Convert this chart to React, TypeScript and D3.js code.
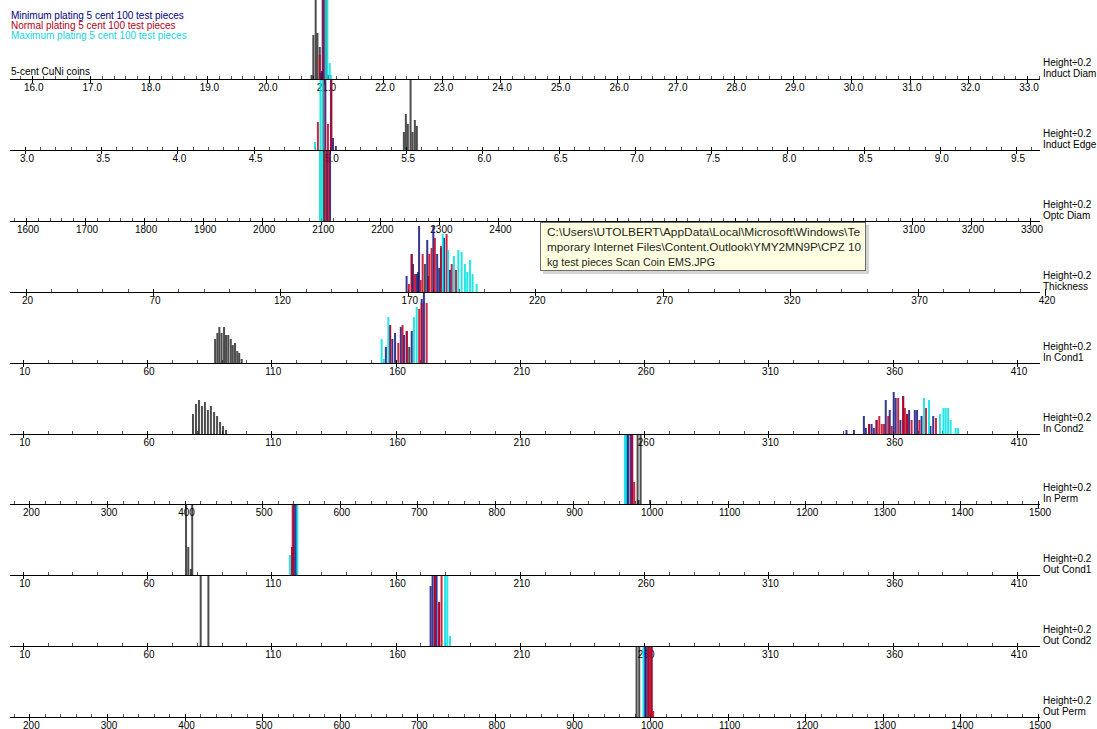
import React, { useEffect } from 'react';
import * as d3 from 'd3';

type Bar = [number, number];

// ---------- tick labels ----------
const inductDiamTicks = d3.range(16, 33.5, 1);
const inductEdgeTicks = d3.range(3, 9.75, 0.5);
const optcDiamTicks = d3.range(1600, 3350, 100);
const thicknessTicks = d3.range(20, 450, 50);
const condTicks = d3.range(10, 450, 50);
const permTicks = d3.range(200, 1550, 100);

// ---------- series: [value, count] ----------
// Induct Diam
const inductDiamBlack: Bar[] = [[20.78, 2], [20.81, 22], [20.85, 40], [20.88, 23], [20.92, 16], [20.94, 3]];
const inductDiamMin: Bar[] = [[20.96, 4], [20.97, 40], [21.0, 40], [21.06, 2]];
const inductDiamNorm: Bar[] = [[20.92, 12], [20.99, 40], [21.03, 40]];
const inductDiamMax: Bar[] = [[21.02, 40], [21.05, 40], [21.09, 8], [21.11, 2]];
// Induct Edge
const inductEdgeBlack: Bar[] = [[5.485, 9], [5.498, 18], [5.511, 13], [5.529, 40], [5.542, 9], [5.557, 15], [5.57, 12]];
const inductEdgeMin: Bar[] = [[4.97, 40], [5.007, 40], [5.02, 6], [5.039, 2]];
const inductEdgeNorm: Bar[] = [[4.921, 14], [4.958, 40], [4.987, 13], [5.01, 40]];
const inductEdgeMax: Bar[] = [[4.902, 4], [4.938, 40], [4.952, 40]];
// Optc Diam
const optcDiamBlack: Bar[] = [[2104.6, 40]];
const optcDiamMin: Bar[] = [[2109.7, 40], [2114.8, 40]];
const optcDiamNorm: Bar[] = [[2107.3, 40], [2112.2, 40]];
const optcDiamMax: Bar[] = [[2097.8, 40], [2101.2, 40]];
// Thickness
const thicknessBlack: Bar[] = [[174.0, 10], [176.7, 14], [178.0, 8]];
const thicknessMin: Bar[] = [[169.5, 8], [171.5, 19], [172.0, 14], [173.5, 9], [174.4, 33], [177.6, 26], [180.0, 33], [181.5, 19], [182.3, 12], [183.0, 22], [184.2, 27], [186.5, 11]];
const thicknessNorm: Bar[] = [[170.4, 4], [171.5, 19], [172.8, 9], [175.0, 6], [175.8, 19], [178.4, 19], [179.3, 22], [180.6, 27], [183.0, 23], [185.2, 29], [187.2, 14], [188.9, 11]];
const thicknessMax: Bar[] = [[183.7, 29], [185.8, 21], [188.1, 18], [189.8, 21], [191.1, 20], [192.4, 14], [193.3, 10], [194.4, 16], [195.4, 9], [197.0, 4]];
// In Cond1
const inCond1Black: Bar[] = [[87.4, 12], [88.3, 15], [89.1, 18], [90.0, 15], [91.0, 18], [91.8, 14], [92.7, 14], [93.7, 12], [94.5, 9], [95.4, 10], [96.3, 6], [97.1, 5], [98.1, 2], [165.5, 8]];
const inCond1Min: Bar[] = [[156.1, 8], [157.8, 19], [158.7, 12], [159.8, 15], [162.1, 18], [163.4, 14], [164.5, 16], [166.5, 16], [170.5, 32], [171.4, 35]];
const inCond1Norm: Bar[] = [[157.8, 19], [161.1, 10], [162.8, 19], [164.5, 16], [169.5, 27], [170.5, 30], [172.5, 30]];
const inCond1Max: Bar[] = [[154.4, 12], [155.3, 2], [157.1, 23], [167.4, 23], [168.5, 28]];
// In Cond2
const inCond2Black: Bar[] = [[78.5, 10], [79.7, 15], [80.9, 17], [82.1, 14], [83.3, 16], [84.5, 12], [85.7, 14], [87.0, 11], [88.2, 9], [89.4, 6], [90.6, 4], [91.8, 2]];
const inCond2Min: Bar[] = [[341.4, 2], [344.4, 2], [348.4, 9], [349.2, 3], [350.5, 5], [351.5, 5], [352.4, 3], [353.5, 7], [357.2, 17], [358.8, 12], [360.4, 21], [361.2, 18], [363.1, 7], [364.2, 19], [365.8, 10], [366.6, 12], [368.9, 12], [369.8, 12], [371.6, 9], [375.2, 4], [376.3, 9]];
const inCond2Norm: Bar[] = [[350.5, 5], [353.5, 7], [354.6, 9], [355.6, 5], [356.5, 5], [358.2, 9], [359.6, 4], [362.2, 18], [364.2, 19], [364.9, 13], [365.8, 10], [367.6, 7], [370.7, 7], [373.4, 13], [377.4, 8]];
const inCond2Max: Bar[] = [[372.6, 18], [374.6, 17], [379.0, 10], [380.4, 13], [381.3, 13], [382.3, 13], [383.3, 7], [385.3, 3], [386.3, 3]];
// In Perm
const inPermBlack: Bar[] = [[983.9, 40], [985.0, 2], [987.8, 40], [1000.0, 2]];
const inPermMin: Bar[] = [[970.1, 40], [971.8, 40], [974.9, 40], [976.9, 40]];
const inPermNorm: Bar[] = [[976.9, 40], [979.5, 11]];
const inPermMax: Bar[] = [[967.5, 40], [969.0, 40]];
// Out Cond1
const outCond1Black: Bar[] = [[75.7, 40], [76.6, 14], [77.6, 3], [78.2, 40]];
const outCond1Min: Bar[] = [[118.4, 14], [119.1, 40], [119.9, 40]];
const outCond1Norm: Bar[] = [[118.4, 14], [118.6, 40]];
const outCond1Max: Bar[] = [[117.5, 10], [120.5, 40]];
// Out Cond2
const outCond2Black: Bar[] = [[81.6, 40], [84.7, 40]];
const outCond2Min: Bar[] = [[174.1, 30], [174.9, 40], [175.8, 40], [176.5, 40], [177.5, 22]];
const outCond2Norm: Bar[] = [[175.8, 40], [177.5, 22], [178.5, 40]];
const outCond2Max: Bar[] = [[179.9, 40], [180.8, 40], [181.9, 5]];
// Out Perm
const outPermBlack: Bar[] = [[982.6, 40], [986.0, 40]];
const outPermMin: Bar[] = [[993.3, 40], [994.6, 40], [997.6, 40], [1001.9, 40]];
const outPermNorm: Bar[] = [[997.6, 40], [999.7, 40], [1001.9, 40], [1004.0, 3]];
const outPermMax: Bar[] = [[991.4, 40]];

const legendLines = [
  { text: 'Minimum plating 5 cent 100 test pieces', color: '#000080' },
  { text: 'Normal plating 5 cent 100 test pieces', color: '#b0001c' },
  { text: 'Maximum plating 5 cent 100 test pieces', color: '#12d6e2' },
];
const tooltipLines = [
  'C:\\Users\\UTOLBERT\\AppData\\Local\\Microsoft\\Windows\\Te',
  'mporary Internet Files\\Content.Outlook\\YMY2MN9P\\CPZ 10',
  'kg test pieces Scan Coin EMS.JPG',
];

const f1 = (d: number) => d.toFixed(1);
const f0 = (d: number) => String(Math.round(d));

const panels = [
  { name: 'Induct Diam', ticks: inductDiamTicks, dom: [22, 33], rng: [383, 1027], fmt: f1, s: [inductDiamBlack, inductDiamMin, inductDiamNorm, inductDiamMax] },
  { name: 'Induct Edge', ticks: inductEdgeTicks, dom: [3, 9.5], rng: [25, 1016], fmt: f1, s: [inductEdgeBlack, inductEdgeMin, inductEdgeNorm, inductEdgeMax] },
  { name: 'Optc Diam', ticks: optcDiamTicks, dom: [1600, 3300], rng: [26, 1030], fmt: f0, s: [optcDiamBlack, optcDiamMin, optcDiamNorm, optcDiamMax] },
  { name: 'Thickness', ticks: thicknessTicks, dom: [70, 420], rng: [153, 1045], fmt: f0, s: [thicknessBlack, thicknessMin, thicknessNorm, thicknessMax] },
  { name: 'In Cond1', ticks: condTicks, dom: [60, 410], rng: [147, 1017], fmt: f0, s: [inCond1Black, inCond1Min, inCond1Norm, inCond1Max] },
  { name: 'In Cond2', ticks: condTicks, dom: [60, 410], rng: [147, 1017], fmt: f0, s: [inCond2Black, inCond2Min, inCond2Norm, inCond2Max] },
  { name: 'In Perm', ticks: permTicks, dom: [300, 1500], rng: [107, 1038], fmt: f0, s: [inPermBlack, inPermMin, inPermNorm, inPermMax] },
  { name: 'Out Cond1', ticks: condTicks, dom: [60, 410], rng: [147, 1017], fmt: f0, s: [outCond1Black, outCond1Min, outCond1Norm, outCond1Max] },
  { name: 'Out Cond2', ticks: condTicks, dom: [60, 410], rng: [147, 1017], fmt: f0, s: [outCond2Black, outCond2Min, outCond2Norm, outCond2Max] },
  { name: 'Out Perm', ticks: permTicks, dom: [300, 1500], rng: [107, 1038], fmt: f0, s: [outPermBlack, outPermMin, outPermNorm, outPermMax] },
];

const seriesColors = ['#000000', '#14147e', '#c4001c', '#00e0e0'];
const seriesOpacity = [0.7, 0.85, 0.85, 0.85];

const W = 1097;
const H = 729;
const axisY = (i: number) => Math.round(79 + i * 70.9);
const FONT = '"Liberation Sans", Arial, sans-serif';
const TIP = { x: 540.5, y: 222.5, w: 325, h: 48 };

export default function App() {
  useEffect(() => {
    document.body.style.margin = '0';
  }, []);

  const yScale = d3.scaleLinear().domain([0, 35]).range([0, 70]);

  const axes: React.ReactNode[] = [];
  const bars: React.ReactNode[] = [];

  panels.forEach((p, i) => {
    const ay = axisY(i);
    const top = i === 0 ? 0 : axisY(i - 1) + 1;
    const x = d3.scaleLinear().domain(p.dom).range(p.rng);
    const step = p.ticks[1] - p.ticks[0];
    const minor: number[] = [];
    const first = p.ticks[0] - step;
    for (let t = first; t <= p.ticks[p.ticks.length - 1] + step; t += step / 5) {
      const px = x(t);
      if (px > 11 && px < 1040) minor.push(px);
    }
    axes.push(
      <g key={'ax' + i}>
        <line x1={10} x2={1040} y1={ay + 0.5} y2={ay + 0.5} stroke="#000" strokeWidth={1} />
        {minor.map((px, k) => (
          <line key={k} x1={Math.round(px) + 0.5} x2={Math.round(px) + 0.5} y1={ay - 3} y2={ay} stroke="#555" strokeWidth={1} />
        ))}
        {p.ticks.map((t, k) => {
          const px = x(t);
          const label = p.fmt(t);
          const w = label.length * 5.3;
          const cx = Math.max(px + 2, 14 + w / 2);
          const ly = ay + 11.5;
          const hidden = cx + w / 2 > TIP.x && cx - w / 2 < TIP.x + TIP.w && ly > TIP.y && ly - 8 < TIP.y + TIP.h;
          return (
            <g key={'t' + k}>
              <line x1={Math.round(px) + 0.5} x2={Math.round(px) + 0.5} y1={ay - 3} y2={ay + 4} stroke="#000" strokeWidth={1} />
              {!hidden && (
                <text x={cx} y={ly} textAnchor="middle" fontSize={10} fontFamily={FONT} fill="#000">{label}</text>
              )}
            </g>
          );
        })}
        <text x={1043} y={ay - 13.5} fontSize={10} fontFamily={FONT} fill="#000">Height÷0.2</text>
        <text x={1043} y={ay - 2.5} fontSize={10} fontFamily={FONT} fill="#000">{p.name}</text>
      </g>
    );
    p.s.forEach((series, si) => {
      series.forEach(([v, c], k) => {
        const h = Math.min(yScale(c), ay - top);
        bars.push(
          <rect key={`b${i}-${si}-${k}`} x={x(v) - 1} y={ay - h} width={2} height={h}
            fill={seriesColors[si]} fillOpacity={seriesOpacity[si]} />
        );
      });
    });
  });

  return (
    <svg width={W} height={H} viewBox={`0 0 ${W} ${H}`} style={{ position: 'absolute', left: 0, top: 0, background: '#fff', display: 'block' }}>
      <rect x={0} y={0} width={W} height={H} fill="#fff" />
      {legendLines.map((l, k) => (
        <text key={k} x={11} y={18.5 + k * 10} fontSize={10} fontFamily={FONT} fill={l.color}>{l.text}</text>
      ))}
      <text x={11} y={75} fontSize={10} fontFamily={FONT} fill="#000">5-cent CuNi coins</text>
      {axes}
      {bars}
      <g>
        <rect x={TIP.x + 2.5} y={TIP.y + 2.5} width={TIP.w + 1} height={TIP.h + 1} fill="#888" fillOpacity={0.35} />
        <rect x={TIP.x} y={TIP.y} width={TIP.w} height={TIP.h} fill="#ffffe1" stroke="#6e6e6e" strokeWidth={1} />
        {tooltipLines.map((t, k) => (
          <text key={k} x={547} y={236 + k * 14.8} fontSize={11.5} fontFamily={FONT} fill="#1e1e1e"
            textLength={k === 2 ? 168 : k === 1 ? 314 : 313} lengthAdjust="spacingAndGlyphs">{t}</text>
        ))}
      </g>
    </svg>
  );
}
